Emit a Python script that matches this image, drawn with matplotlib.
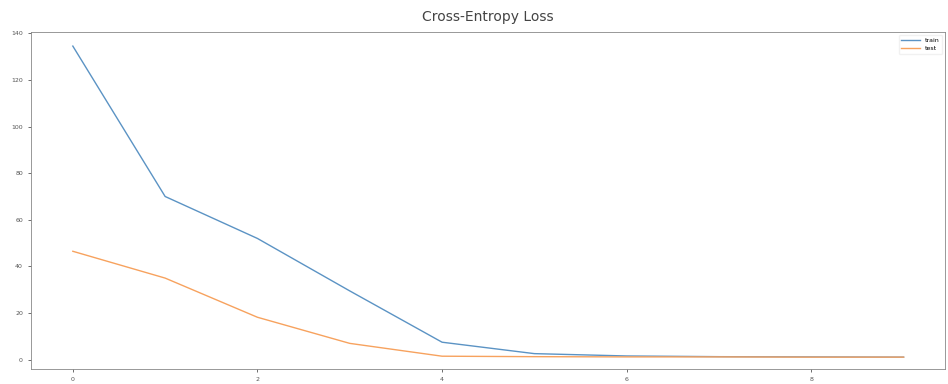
import matplotlib
matplotlib.use("Agg")
import matplotlib.pyplot as plt

# loss per epoch
epochs = [0, 1, 2, 3, 4, 5, 6, 7, 8, 9]
train_loss = [134.5, 70.0, 52.0, 29.5, 7.5, 2.6, 1.6, 1.3, 1.2, 1.1]
test_loss = [46.5, 35.0, 18.2, 7.0, 1.5, 1.3, 1.2, 1.2, 1.1, 1.1]

fig = plt.figure(figsize=(9.48, 3.84), dpi=100)
ax = fig.add_axes([0.033, 0.039, 0.964, 0.878])

ax.plot(epochs, train_loss, color='#5b93c4', linewidth=1.0, label='train')
ax.plot(epochs, test_loss, color='#f7a25e', linewidth=1.0, label='test')

ax.set_xticks([0, 2, 4, 6, 8])
ax.set_yticks(range(0, 141, 20))
ax.set_ylim(-4, 140.6)
ax.tick_params(labelsize=4.5, length=2.5, width=0.6, colors='#555555')
for s in ax.spines.values():
    s.set_linewidth(0.6)
    s.set_color('#888888')

ax.set_title('Cross-Entropy Loss', fontsize=10, color='#444444', pad=8)
ax.legend(loc='upper right', fontsize=4.5, frameon=True, framealpha=0.8,
          edgecolor='#eeeeee', handlelength=3)

plt.savefig('out.png', dpi=100)
